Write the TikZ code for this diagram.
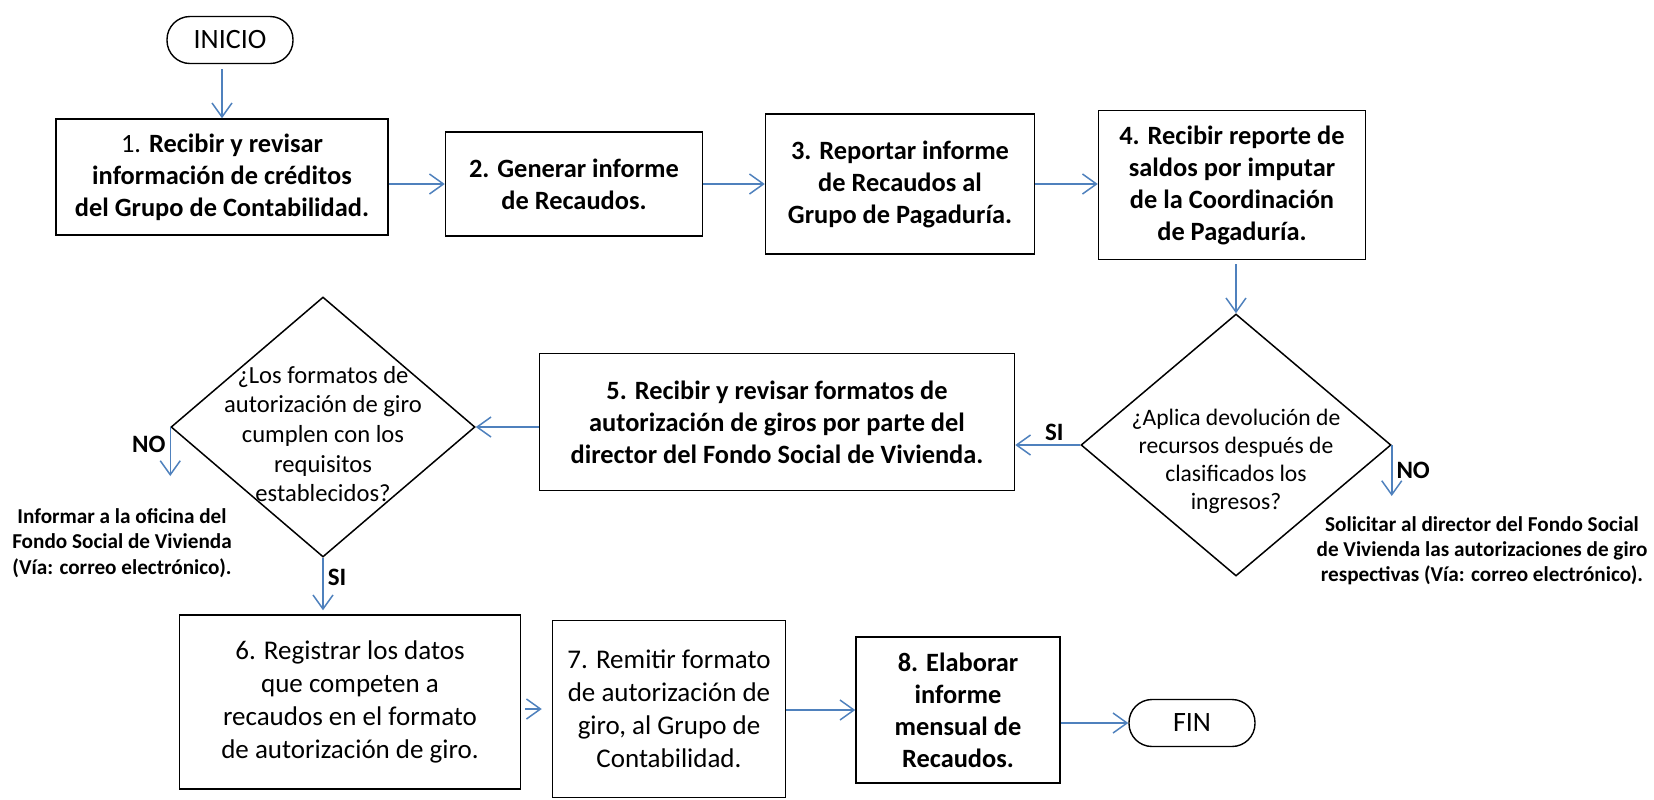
\documentclass[tikz,border=0pt]{standalone}
\usepackage{fontspec}
\setmainfont{Carlito}
\usetikzlibrary{shapes.geometric,arrows.meta}
\definecolor{flecha}{RGB}{79,129,189}

\begin{document}
\begin{tikzpicture}[x=0.5pt,y=-0.5pt,
	stepbox/.style={draw,line width=0.75pt,align=center,inner sep=2pt,font=\fontsize{13.2}{16}\selectfont\bfseries},
	lightbox/.style={stepbox,font=\fontsize{13.5}{16.5}\selectfont},
	termbox/.style={draw,line width=0.7pt,rounded corners=11.5pt,minimum width=63pt,minimum height=23.5pt,font=\fontsize{14}{16}\selectfont},
	decision/.style={draw,diamond,line width=0.75pt,inner sep=0pt},
	dtext/.style={align=center,font=\fontsize{11.8}{14}\selectfont},
	note/.style={align=center,font=\fontsize{10.6}{12.6}\selectfont\bfseries},
	answer/.style={font=\fontsize{12.5}{14}\selectfont\bfseries,inner sep=2pt},
	flow/.style={draw=flecha,line width=0.75pt,-{Straight Barb[length=7pt,width=10pt]}}]
	\useasboundingbox (0,0) rectangle (1654,799);
	% primera fila
	\node[termbox] (inicio) at (230,40) {INICIO};
	\node[stepbox,minimum width=166pt,minimum height=58pt] (b1) at (222,177)
		{{\mdseries 1.} Recibir y revisar\\ información de créditos\\ del Grupo de Contabilidad.};
	\node[stepbox,minimum width=128.5pt,minimum height=52pt] (b2) at (574,184)
		{2. Generar informe\\ de Recaudos.};
	\node[stepbox,minimum width=134.5pt,minimum height=70pt] (b3) at (900,184)
		{3. Reportar informe\\ de Recaudos al\\ Grupo de Pagaduría.};
	\node[stepbox,minimum width=133.5pt,minimum height=74.5pt] (b4) at (1232,185)
		{4. Recibir reporte de\\ saldos por imputar\\ de la Coordinación\\ de Pagaduría.};
	% decisiones
	\node[decision,minimum width=155pt,minimum height=131pt,
		label={[dtext,yshift=-8pt]center:{¿Aplica devolución de\\ recursos después de\\ clasificados los\\ ingresos?}}] (d1) at (1236,445) {};
	\node[stepbox,minimum width=237.5pt,minimum height=68.5pt] (b5) at (777,422)
		{5. Recibir y revisar formatos de\\ autorización de giros por parte del\\ director del Fondo Social de Vivienda.};
	\node[decision,minimum width=152pt,minimum height=130pt,
		label={[dtext,font=\fontsize{12.3}{14.8}\selectfont,yshift=-3.5pt]center:{¿Los formatos de\\ autorización de giro\\ cumplen con los\\ requisitos\\ establecidos?}}] (d2) at (323,427) {};
	\coordinate (d1no) at (1394,496);
	\coordinate (d2no) at (171,476);
	\node[note] (n1) at (1482,551) {Solicitar al director del Fondo Social\\ de Vivienda las autorizaciones de giro\\ respectivas (Vía: correo electrónico).};
	\node[note] (n2) at (122,543) {Informar a la oficina del\\ Fondo Social de Vivienda\\ (Vía: correo electrónico).};
	% ultima fila
	\node[lightbox,minimum width=170.5pt,minimum height=87pt] (b6) at (350,702)
		{6. Registrar los datos\\ que competen a\\ recaudos en el formato\\ de autorización de giro.};
	\node[lightbox,minimum width=116.5pt,minimum height=88.5pt] (b7) at (669,709)
		{7. Remitir formato\\ de autorización de\\ giro, al Grupo de\\ Contabilidad.};
	\node[stepbox,minimum width=102pt,minimum height=73pt] (b8) at (958,710)
		{8. Elaborar\\ informe\\ mensual de\\ Recaudos.};
	\node[termbox] (fin) at (1192,723) {FIN};
	% conectores
	\draw[flow,shorten <=2.5pt] (inicio.south -| b1) -- (b1.north);
	\draw[flow] (b1.east |- b2) -- (b2.west);
	\draw[flow] (b2.east |- b3) -- (b3.west);
	\draw[flow] (b3.east) -- (b3.east -| b4.west);
	\draw[flow,shorten <=2pt] (b4.south -| d1) -- (d1.north);
	\draw[flow] (d1.west) -- (d1.west -| b5.east) node[answer,above,pos=0.4]{SI};
	\draw[flow] (d1.east) -- (d1.east |- d1no) node[answer,right,pos=0.5]{NO};
	\draw[flow] (b5.west |- d2) -- (d2.east);
	\draw[flow] (d2.west) -- (d2.west |- d2no) node[answer,left,pos=0.35]{NO};
	\draw[flow,shorten >=2pt] (d2.south) -- (d2.south |- b6.north) node[answer,right,pos=0.35]{SI};
	\draw[flow,shorten <=2pt,shorten >=5pt] (b6.east |- b7) -- (b7.west);
	\draw[flow] (b7.east |- b8) -- (b8.west);
	\draw[flow] (b8.east |- fin) -- (fin.west);
\end{tikzpicture}
\end{document}
